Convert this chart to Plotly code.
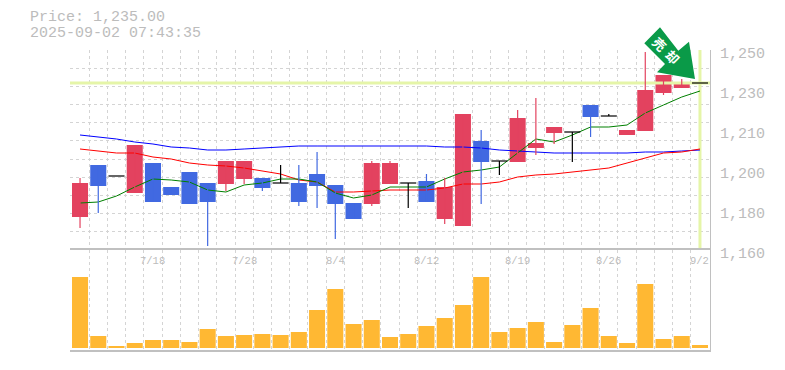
import plotly.graph_objects as go

W, H = 785, 370
L, R, T, B = 70, 710, 50, 350

categories = list(range(35))
date_labels = ["7/18", "7/28", "8/4", "8/12", "8/19", "8/26", "9/2"]
date_positions = [4, 9, 14, 19, 24, 29, 34]

opens = [1168, 1194, 1188.5, 1180, 1195, 1183, 1190.5, 1185, 1184.5, 1187, 1187.5, 1185, 1185, 1189.5, 1184, 1175,
         1174.5, 1184.5, 1185, 1186, 1167, 1163.5, 1206, 1196, 1195.5, 1202.5, 1210, 1210.5, 1224, 1218.5, 1209, 1211,
         1230, 1232.5, 1235]
closes = [1185, 1183.5, 1188.5, 1204, 1175.5, 1179, 1174.5, 1175.5, 1196, 1196, 1182.5, 1185, 1175.5, 1183.5, 1174.5,
          1167, 1195, 1195, 1185, 1175.5, 1183, 1219.5, 1195.5, 1196, 1217.5, 1205, 1213, 1210.5, 1218, 1218.5, 1211.5,
          1231.5, 1239, 1235, 1235]
highs = [1187.5, 1194, 1188.5, 1204, 1195, 1183, 1190.5, 1185, 1196, 1196, 1187.5, 1194, 1194, 1200.5, 1184, 1175,
         1196, 1196, 1185, 1189.5, 1187.5, 1219.5, 1211.5, 1196, 1221.5, 1227.5, 1213, 1210.5, 1224, 1219.5, 1211.5,
         1250.5, 1239, 1237, 1235]
lows = [1162.5, 1170, 1188.5, 1180, 1175.5, 1179, 1174.5, 1153.5, 1181, 1184.5, 1181, 1185, 1173.5, 1172.5, 1157, 1167,
        1173.5, 1184.5, 1172.5, 1175.5, 1164.5, 1163.5, 1174.5, 1189, 1195.5, 1199, 1204.5, 1195.5, 1208, 1218.5, 1209,
        1211, 1229, 1232.5, 1235]
ma_short = [1175, 1175.5, 1178.5, 1183, 1187, 1186.5, 1185.5, 1181.5, 1180.5, 1184, 1185, 1187, 1187, 1185.5, 1180,
            1177.5, 1179, 1183, 1183, 1183, 1187, 1190.5, 1191.5, 1193, 1200, 1207, 1205.5, 1209, 1213, 1213, 1214,
            1220, 1224, 1228, 1231]
ma_mid = [1202, 1201, 1200, 1200, 1198, 1197, 1195, 1194, 1193.5, 1192.5, 1191, 1189.5, 1186.5, 1185.5, 1180.5, 1180.5,
          1181, 1181.5, 1181.5, 1181.5, 1182.5, 1184.5, 1184.5, 1185.5, 1188, 1189, 1189.5, 1190.5, 1191.5, 1192.5,
          1195, 1197.5, 1200, 1200.5, 1202]
ma_long = [1209, 1208, 1207, 1205.5, 1204.5, 1203, 1202.5, 1201.5, 1201.5, 1202, 1202.5, 1203, 1203.5, 1203.5, 1203.5,
           1203.5, 1203.5, 1203.5, 1203.5, 1203.5, 1203, 1203, 1202.5, 1201.5, 1201, 1200.5, 1200, 1200, 1200, 1200,
           1200, 1200.5, 1200.5, 1201, 1201.5]
volumes = [71, 12, 2, 5, 8, 8, 6, 19, 12, 13, 14, 13, 16, 38, 59, 24, 28, 11, 14, 22, 30, 43, 71, 16, 20, 26, 6, 23,
           40, 12, 5, 64, 9, 12, 3]
price_tick_values = [1250, 1230, 1210, 1190, 1170, 1150]
price_tick_labels = ["1,250", "1,230", "1,210", "1,200", "1,180", "1,160"]
last_price = 1235
price_text = "Price: 1,235.00"
time_text = "2025-09-02 07:43:35"
signal_text = ["<b>売</b>", "<b>却</b>"]

UP, DOWN, FLAT = "#e3425f", "#4169e1", "#000000"
GRID, TEXT, AXIS = "#d4d4d4", "#bcbcbc", "#c0c0c0"
MONO = "Liberation Mono"
BODY = 0.88


def px(x):
    return (x - L) / (R - L)


def py(y):
    return 1 - (y - T) / (B - T)


fig = go.Figure()
x_range = [-0.55, 34.55]
fig.add_trace(go.Scatter(x=x_range, y=[last_price, last_price], mode="lines",
                         line=dict(color="#e5f5a8", width=3), xaxis="x", yaxis="y", hoverinfo="skip"))
fig.add_trace(go.Scatter(x=[categories[-1], categories[-1]], y=[1152, 1251.5], mode="lines",
                         line=dict(color="#e5f5a8", width=3), xaxis="x", yaxis="y", hoverinfo="skip"))
for series, colour in ((ma_long, "#0000ff"), (ma_mid, "#ff0000"), (ma_short, "#008000")):
    fig.add_trace(go.Scatter(x=categories, y=series, mode="lines", line=dict(color=colour, width=1),
                             xaxis="x", yaxis="y", hoverinfo="skip"))

for colour, test in ((UP, lambda o, c: c > o), (DOWN, lambda o, c: c < o), (FLAT, lambda o, c: c == o)):
    idx = [i for i in categories if test(opens[i], closes[i])]
    wx, wy = [], []
    for i in idx:
        wx += [i, i, None]
        wy += [lows[i], highs[i], None]
    fig.add_trace(go.Scatter(x=wx, y=wy, mode="lines", line=dict(color=colour, width=1.2),
                             xaxis="x", yaxis="y", hoverinfo="skip"))
    if colour == FLAT:
        for i in idx:
            fig.add_trace(go.Scatter(x=[i - BODY / 2, i + BODY / 2], y=[opens[i], closes[i]], mode="lines",
                                     line=dict(color=colour, width=1.2), xaxis="x", yaxis="y", hoverinfo="skip"))
    else:
        fig.add_trace(go.Bar(x=idx, y=[abs(closes[i] - opens[i]) for i in idx],
                             base=[min(opens[i], closes[i]) for i in idx], width=BODY,
                             marker=dict(color=colour, line_width=0), xaxis="x", yaxis="y"))

fig.add_trace(go.Bar(x=categories, y=volumes, width=BODY, marker=dict(color="#ffb833", line_width=0),
                     xaxis="x2", yaxis="y2"))

grid = dict(gridcolor=GRID, griddash="3px,3px", gridwidth=1)
arrow = [(660, 27.3), (644.3, 43.3), (665, 64), (657, 72.3), (695, 79), (689, 41.7), (678.3, 50.7)]
path = "M " + " L ".join(f"{px(a):.5f},{py(b):.5f}" for a, b in arrow) + " Z"

annotations = [
    dict(x=px(28), y=py(18), text=price_text),
    dict(x=px(28), y=py(33), text=time_text),
]
annotations = [dict(a, xref="paper", yref="paper", xanchor="left", yanchor="middle", showarrow=False,
                    font=dict(family=MONO, size=15, color=TEXT)) for a in annotations]
for pos, label in zip(date_positions, date_labels):
    annotations.append(dict(x=pos, xref="x2", y=py(261), yref="paper", text=label, showarrow=False,
                            xanchor="center", yanchor="middle", font=dict(family=MONO, size=10.5, color=TEXT)))
for (cx, cy), ch in zip(((659, 44), (672, 57)), signal_text):
    annotations.append(dict(x=px(cx), y=py(cy), xref="paper", yref="paper", text=ch, showarrow=False, textangle=45,
                            xanchor="center", yanchor="middle",
                            font=dict(family="Noto Sans CJK JP", size=13, color="#ffffff")))

fig.update_layout(
    width=W, height=H, showlegend=False, plot_bgcolor="#ffffff", paper_bgcolor="#ffffff",
    margin=dict(l=L, r=W - R, t=T, b=H - B, pad=0), barmode="overlay",
    shapes=[dict(type="path", path=path, xref="paper", yref="paper", fillcolor="#0a9a48",
                 line=dict(width=0), layer="above")],
    annotations=annotations,
    xaxis=dict(domain=[0, 1], range=x_range, anchor="y", showticklabels=False, ticks="", showgrid=False,
               zeroline=False, tickmode="array", tickvals=[],
               minor=dict(showgrid=True, tickmode="linear", tick0=-0.5, dtick=1, ticks="", **grid)),
    xaxis2=dict(domain=[0, 1], range=x_range, anchor="y2", showticklabels=False, ticks="", showgrid=False,
                zeroline=False, showline=True, linecolor=AXIS, linewidth=2, mirror=True, tickmode="array",
                tickvals=[], minor=dict(showgrid=True, tickmode="linear", tick0=-0.5, dtick=1, ticks="", **grid)),
    yaxis=dict(domain=[py(256), 1], range=[1148.5, 1251.5], side="right", tickmode="array",
               tickvals=price_tick_values, ticktext=price_tick_labels, showgrid=False, zeroline=False, ticks="",
               showline=True, linecolor=AXIS, linewidth=1, ticklabelstandoff=6,
               tickfont=dict(family=MONO, size=15, color=TEXT),
               minor=dict(showgrid=True, tickmode="linear", tick0=1151.5, dtick=100 / 11, ticks="", **grid)),
    yaxis2=dict(domain=[0, 1 / 3], range=[-2, 98], side="right", showticklabels=False, showgrid=False,
                zeroline=False, ticks="", showline=True, linecolor=AXIS, linewidth=1),
)

fig.write_html("out.html", config=dict(displayModeBar=False),
               post_script="document.body.style.margin='0';document.documentElement.style.overflow='hidden';")
